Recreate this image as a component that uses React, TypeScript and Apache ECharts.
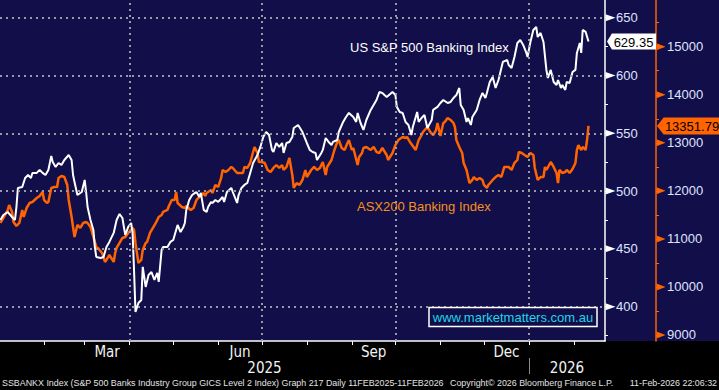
import React, { useEffect, useRef } from 'react';
import * as echarts from 'echarts';

// ---------- DATA ----------
// US S&P 500 Banking Index (left axis)
const usSeries: [string, number][] = [
  ['2025-01-02', 475.0], ['2025-01-04', 479.3], ['2025-01-07', 481.9], ['2025-01-10', 477.6],
  ['2025-01-12', 475.0], ['2025-01-13', 486.2], ['2025-01-14', 502.7], ['2025-01-17', 503.5],
  ['2025-01-19', 511.3], ['2025-01-21', 513.9], ['2025-01-23', 511.3], ['2025-01-24', 515.7],
  ['2025-01-27', 515.7], ['2025-01-29', 518.3], ['2025-01-31', 515.7], ['2025-02-02', 513.9],
  ['2025-02-04', 518.3], ['2025-02-06', 530.4], ['2025-02-07', 525.2], ['2025-02-09', 520.9],
  ['2025-02-11', 524.3], ['2025-02-13', 522.6], ['2025-02-15', 526.9], ['2025-02-18', 531.2],
  ['2025-02-20', 526.9], ['2025-02-21', 513.9], ['2025-02-22', 507.9], ['2025-02-24', 496.6],
  ['2025-02-27', 499.2], ['2025-03-01', 509.6], ['2025-03-02', 499.2], ['2025-03-03', 486.2],
  ['2025-03-05', 475.0], ['2025-03-07', 466.4], ['2025-03-08', 451.7], ['2025-03-09', 443.0],
  ['2025-03-12', 442.1], ['2025-03-14', 443.0], ['2025-03-16', 451.7], ['2025-03-18', 456.0],
  ['2025-03-21', 463.8], ['2025-03-23', 475.0], ['2025-03-25', 480.2], ['2025-03-27', 476.7],
  ['2025-03-28', 469.0], ['2025-03-29', 462.0], ['2025-03-31', 469.0], ['2025-04-02', 472.4],
  ['2025-04-03', 463.8], ['2025-04-04', 431.8], ['2025-04-05', 395.4], ['2025-04-07', 403.2],
  ['2025-04-09', 405.8], ['2025-04-10', 434.4], ['2025-04-12', 417.1], ['2025-04-14', 427.4],
  ['2025-04-16', 430.0], ['2025-04-18', 423.1], ['2025-04-20', 429.2], ['2025-04-21', 421.4],
  ['2025-04-23', 449.1], ['2025-04-24', 451.7], ['2025-04-27', 451.7], ['2025-04-29', 456.0],
  ['2025-05-01', 457.7], ['2025-05-03', 466.4], ['2025-05-04', 470.7], ['2025-05-06', 464.6],
  ['2025-05-08', 469.0], ['2025-05-09', 472.4], ['2025-05-10', 483.7], ['2025-05-12', 492.3],
  ['2025-05-14', 496.6], ['2025-05-16', 498.4], ['2025-05-17', 499.2], ['2025-05-19', 494.9],
  ['2025-05-20', 498.4], ['2025-05-22', 483.7], ['2025-05-24', 481.9], ['2025-05-25', 486.2],
  ['2025-05-27', 490.6], ['2025-05-28', 489.7], ['2025-05-30', 492.3], ['2025-06-01', 490.6],
  ['2025-06-04', 494.9], ['2025-06-05', 490.6], ['2025-06-07', 499.2], ['2025-06-10', 502.7],
  ['2025-06-11', 499.2], ['2025-06-14', 489.7], ['2025-06-15', 496.6], ['2025-06-17', 502.7],
  ['2025-06-19', 505.3], ['2025-06-21', 507.0], ['2025-06-23', 515.7], ['2025-06-25', 524.3],
  ['2025-06-28', 531.2], ['2025-06-30', 538.2], ['2025-07-02', 546.8], ['2025-07-04', 551.1],
  ['2025-07-06', 548.5], ['2025-07-08', 535.6], ['2025-07-09', 533.8], ['2025-07-11', 541.6],
  ['2025-07-13', 538.2], ['2025-07-15', 541.6], ['2025-07-16', 533.0], ['2025-07-18', 541.6],
  ['2025-07-20', 542.5], ['2025-07-22', 546.8], ['2025-07-23', 554.6], ['2025-07-26', 557.2],
  ['2025-07-29', 551.1], ['2025-08-01', 541.6], ['2025-08-03', 535.6], ['2025-08-05', 533.8],
  ['2025-08-07', 533.0], ['2025-08-08', 526.9], ['2025-08-11', 533.0], ['2025-08-12', 535.6],
  ['2025-08-14', 545.9], ['2025-08-16', 542.5], ['2025-08-18', 539.9], ['2025-08-19', 542.5],
  ['2025-08-22', 544.2], ['2025-08-23', 551.1], ['2025-08-26', 559.8], ['2025-08-28', 564.1],
  ['2025-08-30', 567.6], ['2025-09-02', 564.1], ['2025-09-04', 559.8], ['2025-09-05', 567.6],
  ['2025-09-07', 558.9], ['2025-09-09', 552.9], ['2025-09-11', 561.5], ['2025-09-14', 570.2],
  ['2025-09-16', 574.5], ['2025-09-18', 578.8], ['2025-09-20', 585.7], ['2025-09-22', 584.9],
  ['2025-09-25', 581.4], ['2025-09-29', 585.7], ['2025-10-01', 583.1], ['2025-10-02', 572.8],
  ['2025-10-04', 568.4], ['2025-10-06', 567.6], ['2025-10-08', 559.8], ['2025-10-10', 557.2],
  ['2025-10-12', 548.5], ['2025-10-13', 555.4], ['2025-10-16', 568.4], ['2025-10-17', 559.8],
  ['2025-10-19', 563.2], ['2025-10-21', 565.8], ['2025-10-23', 554.6], ['2025-10-26', 561.5],
  ['2025-10-27', 570.2], ['2025-10-30', 572.8], ['2025-11-01', 576.2], ['2025-11-03', 578.8],
  ['2025-11-06', 576.2], ['2025-11-08', 577.1], ['2025-11-10', 580.5], ['2025-11-12', 583.1],
  ['2025-11-14', 589.2], ['2025-11-15', 574.5], ['2025-11-17', 570.2], ['2025-11-19', 559.8],
  ['2025-11-20', 563.2], ['2025-11-22', 557.2], ['2025-11-23', 564.1], ['2025-11-26', 570.2],
  ['2025-11-28', 578.8], ['2025-11-30', 584.9], ['2025-12-02', 580.5], ['2025-12-03', 584.9],
  ['2025-12-05', 594.4], ['2025-12-07', 598.7], ['2025-12-09', 589.2], ['2025-12-11', 596.1],
  ['2025-12-14', 611.7], ['2025-12-17', 613.4], ['2025-12-18', 609.1], ['2025-12-20', 606.5],
  ['2025-12-22', 616.0], ['2025-12-24', 628.1], ['2025-12-26', 630.7], ['2025-12-28', 626.4],
  ['2025-12-30', 620.3], ['2025-12-31', 616.0], ['2026-01-02', 629.0], ['2026-01-04', 639.4],
  ['2026-01-06', 642.0], ['2026-01-07', 633.3], ['2026-01-09', 636.8], ['2026-01-11', 629.0],
  ['2026-01-13', 604.8], ['2026-01-14', 597.8], ['2026-01-16', 604.8], ['2026-01-18', 594.4],
  ['2026-01-20', 591.8], ['2026-01-21', 596.1], ['2026-01-23', 589.2], ['2026-01-24', 591.8],
  ['2026-01-26', 587.5], ['2026-01-27', 594.4], ['2026-01-29', 593.5], ['2026-01-31', 603.0],
  ['2026-02-02', 604.8], ['2026-02-03', 619.5], ['2026-02-05', 628.1], ['2026-02-06', 619.5],
  ['2026-02-07', 639.4], ['2026-02-09', 637.7], ['2026-02-11', 629.35],
];

// ASX200 Banking Index (right axis)
const asxSeries: [string, number][] = [
  ['2025-01-02', 11331], ['2025-01-04', 11435], ['2025-01-07', 11602], ['2025-01-08', 11706],
  ['2025-01-10', 11560], ['2025-01-11', 11352], ['2025-01-13', 11269], ['2025-01-15', 11331],
  ['2025-01-17', 11602], ['2025-01-18', 11456], ['2025-01-20', 11643], ['2025-01-22', 11747],
  ['2025-01-24', 11768], ['2025-01-27', 11851], ['2025-01-29', 11893], ['2025-01-31', 11976],
  ['2025-02-01', 11810], ['2025-02-03', 11747], ['2025-02-04', 11768], ['2025-02-06', 12060],
  ['2025-02-08', 12081], ['2025-02-10', 12081], ['2025-02-11', 12268], ['2025-02-13', 12309],
  ['2025-02-15', 12288], ['2025-02-17', 12122], ['2025-02-18', 11810], ['2025-02-20', 11456],
  ['2025-02-21', 11248], ['2025-02-22', 11040], ['2025-02-24', 11290], ['2025-02-26', 11227],
  ['2025-02-28', 11331], ['2025-03-02', 11352], ['2025-03-03', 11331], ['2025-03-05', 11248],
  ['2025-03-07', 11040], ['2025-03-09', 10832], ['2025-03-10', 10812], ['2025-03-13', 10707],
  ['2025-03-15', 10520], ['2025-03-16', 10561], ['2025-03-18', 10665], ['2025-03-21', 10520],
  ['2025-03-22', 10707], ['2025-03-23', 10812], ['2025-03-25', 10915], ['2025-03-27', 11019],
  ['2025-03-29', 11040], ['2025-03-31', 11123], ['2025-04-03', 11227], ['2025-04-04', 11186],
  ['2025-04-05', 10915], ['2025-04-07', 10499], ['2025-04-09', 10561], ['2025-04-10', 10769],
  ['2025-04-12', 10915], ['2025-04-13', 10936], ['2025-04-15', 11123], ['2025-04-17', 11227],
  ['2025-04-19', 11331], ['2025-04-21', 11456], ['2025-04-23', 11498], ['2025-04-24', 11560],
  ['2025-04-27', 11602], ['2025-04-28', 11685], ['2025-04-30', 11810], ['2025-05-02', 11810],
  ['2025-05-03', 11976], ['2025-05-04', 11747], ['2025-05-07', 11664], ['2025-05-09', 11643],
  ['2025-05-10', 11685], ['2025-05-13', 11602], ['2025-05-15', 11643], ['2025-05-17', 11810],
  ['2025-05-19', 11872], ['2025-05-22', 11955], ['2025-05-23', 11893], ['2025-05-24', 11955],
  ['2025-05-27', 12018], ['2025-05-28', 11955], ['2025-05-30', 12122], ['2025-06-01', 12081],
  ['2025-06-03', 12268], ['2025-06-04', 12434], ['2025-06-06', 12392], ['2025-06-08', 12434],
  ['2025-06-10', 12497], ['2025-06-11', 12476], ['2025-06-14', 12372], ['2025-06-16', 12372],
  ['2025-06-18', 12372], ['2025-06-19', 12497], ['2025-06-21', 12476], ['2025-06-23', 12580],
  ['2025-06-25', 12809], ['2025-06-26', 12913], ['2025-06-28', 12788], ['2025-06-29', 12601],
  ['2025-07-01', 12601], ['2025-07-03', 12580], ['2025-07-05', 12434], ['2025-07-07', 12392],
  ['2025-07-09', 12476], ['2025-07-11', 12538], ['2025-07-13', 12476], ['2025-07-15', 12538],
  ['2025-07-16', 12434], ['2025-07-18', 12497], ['2025-07-20', 12684], ['2025-07-22', 12330],
  ['2025-07-23', 12060], ['2025-07-25', 12163], ['2025-07-27', 12122], ['2025-07-29', 12226],
  ['2025-07-31', 12434], ['2025-08-01', 12288], ['2025-08-04', 12434], ['2025-08-06', 12497],
  ['2025-08-08', 12434], ['2025-08-10', 12476], ['2025-08-12', 12601], ['2025-08-14', 12330],
  ['2025-08-15', 12497], ['2025-08-18', 12642], ['2025-08-20', 12850], ['2025-08-22', 13017],
  ['2025-08-23', 13058], ['2025-08-25', 12892], ['2025-08-27', 12850], ['2025-08-29', 12996],
  ['2025-08-30', 13058], ['2025-09-01', 12850], ['2025-09-02', 12892], ['2025-09-05', 12538],
  ['2025-09-06', 12705], ['2025-09-08', 12788], ['2025-09-09', 12892], ['2025-09-11', 12913],
  ['2025-09-14', 12850], ['2025-09-16', 12913], ['2025-09-18', 12809], ['2025-09-20', 12788],
  ['2025-09-22', 12892], ['2025-09-25', 12746], ['2025-09-26', 12642], ['2025-09-29', 12788],
  ['2025-10-01', 12954], ['2025-10-03', 13058], ['2025-10-06', 13121], ['2025-10-08', 13100],
  ['2025-10-09', 13121], ['2025-10-11', 13017], ['2025-10-13', 12934], ['2025-10-15', 12850],
  ['2025-10-17', 13058], ['2025-10-19', 13162], ['2025-10-20', 13225], ['2025-10-23', 13329],
  ['2025-10-25', 13225], ['2025-10-27', 13162], ['2025-10-29', 13266], ['2025-10-30', 13412],
  ['2025-11-01', 13142], ['2025-11-03', 13412], ['2025-11-04', 13433], ['2025-11-06', 13516],
  ['2025-11-08', 13475], ['2025-11-10', 13412], ['2025-11-11', 13329], ['2025-11-12', 13058],
  ['2025-11-14', 12913], ['2025-11-16', 12788], ['2025-11-17', 12580], ['2025-11-19', 12434],
  ['2025-11-21', 12163], ['2025-11-23', 12226], ['2025-11-24', 12288], ['2025-11-26', 12226],
  ['2025-11-28', 12268], ['2025-11-30', 12226], ['2025-12-01', 12122], ['2025-12-03', 12060],
  ['2025-12-04', 12122], ['2025-12-07', 12226], ['2025-12-09', 12288], ['2025-12-11', 12330],
  ['2025-12-13', 12288], ['2025-12-15', 12497], ['2025-12-18', 12497], ['2025-12-20', 12434],
  ['2025-12-22', 12580], ['2025-12-24', 12642], ['2025-12-25', 12809], ['2025-12-27', 12788],
  ['2025-12-29', 12746], ['2025-12-31', 12705], ['2026-01-02', 12788], ['2026-01-04', 12746],
  ['2026-01-05', 12476], ['2026-01-07', 12226], ['2026-01-09', 12288], ['2026-01-11', 12288],
  ['2026-01-12', 12497], ['2026-01-13', 12434], ['2026-01-16', 12601], ['2026-01-18', 12497],
  ['2026-01-20', 12372], ['2026-01-21', 12163], ['2026-01-22', 12434], ['2026-01-24', 12372],
  ['2026-01-26', 12392], ['2026-01-27', 12434], ['2026-01-29', 12372], ['2026-01-31', 12455],
  ['2026-02-02', 12580], ['2026-02-03', 12850], ['2026-02-04', 12954], ['2026-02-06', 12850],
  ['2026-02-07', 12913], ['2026-02-09', 12850], ['2026-02-10', 13058], ['2026-02-11', 13351.79],
];

const usTickLabels = [400, 450, 500, 550, 600, 650];
const usMinorTicks = [375, 400, 425, 450, 475, 500, 525, 550, 575, 600, 625, 650];
const asxTickLabels = [9000, 10000, 11000, 12000, 13000, 14000, 15000];
const asxMinorTicks = [9000, 9500, 10000, 10500, 11000, 11500, 12000, 12500, 13000, 13500, 14000, 14500, 15000, 15500];
const monthNames = ['Jan', 'Feb', 'Mar', 'Apr', 'May', 'Jun', 'Jul', 'Aug', 'Sep', 'Oct', 'Nov', 'Dec'];
const labelledMonths = ['2025-03', '2025-06', '2025-09', '2025-12'];
const years = [2025, 2026];
const quarterStarts = ['2025-04', '2025-07', '2025-10', '2026-01'];

const usName = 'US S&P 500 Banking Index';
const asxName = 'ASX200 Banking Index';
const watermark = 'www.marketmatters.com.au';
const footerLeft = 'SSBANKX Index (S&P 500 Banks Industry Group GICS Level 2 Index) Graph 217 Daily 11FEB2025-11FEB2026';
const footerMid = 'Copyright\u00A9 2026 Bloomberg Finance L.P.';
const footerRight = '11-Feb-2026 22:06:32';

// ---------- STYLE ----------
const NAVY = '#110e4a';
const ORANGE = '#ff6400';
const LABEL = '#dfe5ff';
const SANS = '"Liberation Sans", Arial, sans-serif';
const NARROW = '"Liberation Sans Narrow", "Arial Narrow", "DejaVu Sans Condensed", "Liberation Sans", sans-serif';
const TRIANGLE = 'path://M0 0L10 3.5L0 7Z';
const TAG = 'path://M0 8L6 0L60 0L60 16L6 16Z';

const parseDay = (s: string) => {
  const [y, m, d] = s.split('-').map(Number);
  return new Date(y, m - 1, d).getTime();
};
const monthStart = (ym: string) => {
  const [y, m] = ym.split('-').map(Number);
  return new Date(y, m - 1, 1).getTime();
};

export default function App() {
  const ref = useRef<HTMLDivElement>(null);

  useEffect(() => {
    document.body.style.margin = '0';
    document.body.style.background = '#000';
    const chart = echarts.init(ref.current!, null, { renderer: 'svg' });

    const xMin = new Date(2025, 0, 1, 16, 30).getTime();
    const xMax = new Date(2026, 1, 22, 8, 40).getTime();
    const ASX_OFFSET = 51;

    const monthTicks: number[] = [];
    for (let m = 1; m <= 13; m++) monthTicks.push(new Date(2025, m, 1).getTime());
    const monthLabelValues = labelledMonths.map((ym) => {
      const [y, m] = ym.split('-').map(Number);
      return (new Date(y, m - 1, 1).getTime() + new Date(y, m, 1).getTime()) / 2;
    });
    const yearLabelValues = years.map((y) => {
      const a = Math.max(new Date(y, 0, 1).getTime(), xMin);
      const b = Math.min(new Date(y + 1, 0, 1).getTime(), xMax);
      return (a + b) / 2;
    });
    const yearBoundaries = years.slice(1).map((y) => new Date(y, 0, 1).getTime());

    const usData = usSeries.map(([d, v]) => [parseDay(d), v]);
    const asxData = asxSeries.map(([d, v]) => [parseDay(d), v]);
    const usLast = usSeries[usSeries.length - 1][1];
    const asxLast = asxSeries[asxSeries.length - 1][1];

    const labelStyle = {
      color: LABEL,
      fontSize: 13,
      fontFamily: SANS,
      margin: 11,
      formatter: (v: number) => String(v),
    };

    const markerSeries = (name: string, yIdx: number, z: number, extra: any) => ({
      name,
      type: 'scatter',
      silent: true,
      clip: false,
      z,
      xAxisIndex: 0,
      yAxisIndex: yIdx,
      emphasis: { disabled: true },
      ...extra,
    });

    chart.setOption({
      animation: false,
      backgroundColor: '#000',
      grid: { left: 0, right: 114, top: 0, bottom: 49, containLabel: false, outerBoundsMode: 'none' },
      xAxis: [
        {
          type: 'value',
          min: xMin,
          max: xMax,
          position: 'bottom',
          axisLine: { show: true, onZero: false, lineStyle: { color: '#ffffff', width: 1.5 } },
          axisTick: { show: true, customValues: monthTicks, length: 4, lineStyle: { color: '#ffffff', width: 1 } },
          axisLabel: {
            show: true,
            customValues: monthLabelValues,
            formatter: (v: number) => monthNames[new Date(v).getMonth()],
            color: '#f2f2f2',
            fontSize: 15,
            fontFamily: NARROW,
            margin: 3,
          },
          splitLine: { show: false },
        },
        {
          type: 'value',
          min: xMin,
          max: xMax,
          position: 'bottom',
          offset: 17,
          axisLine: { show: false },
          axisTick: { show: true, customValues: yearBoundaries, length: 16, lineStyle: { color: '#8a8a8a', width: 1 } },
          axisLabel: {
            show: true,
            customValues: yearLabelValues,
            formatter: (v: number) => String(new Date(v).getFullYear()),
            color: '#f2f2f2',
            fontSize: 15,
            fontFamily: NARROW,
            margin: 2,
          },
          splitLine: { show: false },
        },
      ],
      yAxis: [
        {
          type: 'value',
          position: 'right',
          offset: 0,
          min: 370.3,
          max: 665.3,
          axisLine: { show: true, onZero: false, lineStyle: { color: '#ffffff', width: 1.5 } },
          axisTick: { show: true, customValues: usMinorTicks, length: 3, lineStyle: { color: '#ffffff', width: 1 } },
          axisLabel: { show: true, customValues: usTickLabels, ...labelStyle },
          splitLine: { show: false },
        },
        {
          type: 'value',
          position: 'right',
          offset: ASX_OFFSET,
          min: 8875,
          max: 15972,
          axisLine: { show: true, onZero: false, lineStyle: { color: ORANGE, width: 1.5 } },
          axisTick: { show: true, customValues: asxMinorTicks, length: 3, lineStyle: { color: ORANGE, width: 1 } },
          axisLabel: { show: true, customValues: asxTickLabels, ...labelStyle },
          splitLine: { show: false },
        },
      ],
      series: [
        {
          name: 'grid',
          type: 'line',
          data: [],
          z: 1,
          silent: true,
          xAxisIndex: 0,
          yAxisIndex: 0,
          markLine: {
            silent: true,
            symbol: ['none', 'none'],
            label: { show: false },
            lineStyle: { color: '#9a9aa6', type: [2, 4], width: 2 },
            data: [
              ...usTickLabels.map((v) => ({ yAxis: v })),
              ...quarterStarts.map((q) => ({ xAxis: monthStart(q) })),
            ],
          },
        },
        {
          name: asxName,
          type: 'line',
          data: asxData,
          xAxisIndex: 0,
          yAxisIndex: 1,
          showSymbol: false,
          symbol: 'none',
          z: 3,
          lineStyle: { color: ORANGE, width: 2.5 },
        },
        {
          name: usName,
          type: 'line',
          data: usData,
          xAxisIndex: 0,
          yAxisIndex: 0,
          showSymbol: false,
          symbol: 'none',
          z: 4,
          lineStyle: { color: '#ffffff', width: 2 },
        },
        // arrow-shaped major ticks on both value axes
        markerSeries('usTicks', 0, 6, {
          symbol: TRIANGLE,
          symbolSize: [10, 7],
          symbolOffset: [5.5, 0],
          itemStyle: { color: '#ffffff', opacity: 1 },
          data: usTickLabels.map((v) => [xMax, v]),
        }),
        markerSeries('asxTicks', 1, 6, {
          symbol: TRIANGLE,
          symbolSize: [9, 7],
          symbolOffset: [ASX_OFFSET + 5, 0],
          itemStyle: { color: ORANGE, opacity: 1 },
          data: asxTickLabels.map((v) => [xMax, v]),
        }),
        // last-value tags
        markerSeries('usTag', 0, 7, {
          symbol: TAG,
          symbolSize: [49, 16],
          symbolOffset: [26.5, 0],
          itemStyle: { color: '#ffffff', opacity: 1 },
          label: {
            show: true,
            position: 'inside',
            offset: [2, 0.5],
            formatter: () => usLast.toFixed(2),
            color: '#000',
            fontSize: 13,
            fontFamily: SANS,
          },
          data: [[xMax, usLast]],
        }),
        markerSeries('asxTag', 1, 7, {
          symbol: TAG,
          symbolSize: [66, 17],
          symbolOffset: [ASX_OFFSET + 34, 0],
          itemStyle: { color: ORANGE, opacity: 1 },
          label: {
            show: true,
            position: 'inside',
            offset: [2, 0.5],
            formatter: () => asxLast.toFixed(2),
            color: '#000',
            fontSize: 13,
            fontFamily: SANS,
          },
          data: [[xMax, asxLast]],
        }),
      ],
      graphic: [
        { type: 'rect', z: -10, silent: true, shape: { x: 0, y: 0, width: 719, height: 341 }, style: { fill: NAVY } },
        {
          type: 'text', z: 10, x: 350, y: 47,
          style: { text: usName, fill: '#ffffff', font: `13px ${SANS}`, verticalAlign: 'middle', textVerticalAlign: 'middle' },
        },
        {
          type: 'text', z: 10, x: 357, y: 206,
          style: { text: asxName, fill: '#f5901e', font: `13px ${SANS}`, verticalAlign: 'middle', textVerticalAlign: 'middle' },
        },
        {
          type: 'rect', z: 10, silent: true,
          shape: { x: 429, y: 307.5, width: 168, height: 19 },
          style: { fill: NAVY, stroke: '#ffffff', lineWidth: 1.5 },
        },
        {
          type: 'text', z: 11, x: 513, y: 317.5,
          style: { text: watermark, fill: '#1fd5e8', font: `13px ${SANS}`, align: 'center', textAlign: 'center', verticalAlign: 'middle', textVerticalAlign: 'middle' },
        },
        {
          type: 'text', z: 10, x: 2, y: 383,
          style: { text: footerLeft, fill: '#e3e3e3', font: `8.9px ${SANS}`, verticalAlign: 'middle', textVerticalAlign: 'middle' },
        },
        {
          type: 'text', z: 10, x: 450, y: 383,
          style: { text: footerMid, fill: '#e3e3e3', font: `8.9px ${SANS}`, verticalAlign: 'middle', textVerticalAlign: 'middle' },
        },
        {
          type: 'text', z: 10, x: 717, y: 383,
          style: { text: footerRight, fill: '#e3e3e3', font: `8.9px ${SANS}`, align: 'right', textAlign: 'right', verticalAlign: 'middle', textVerticalAlign: 'middle' },
        },
      ],
    });

    return () => chart.dispose();
  }, []);

  return (
    <div
      ref={ref}
      style={{ position: 'fixed', left: 0, top: 0, width: 719, height: 390, background: '#000' }}
    />
  );
}
